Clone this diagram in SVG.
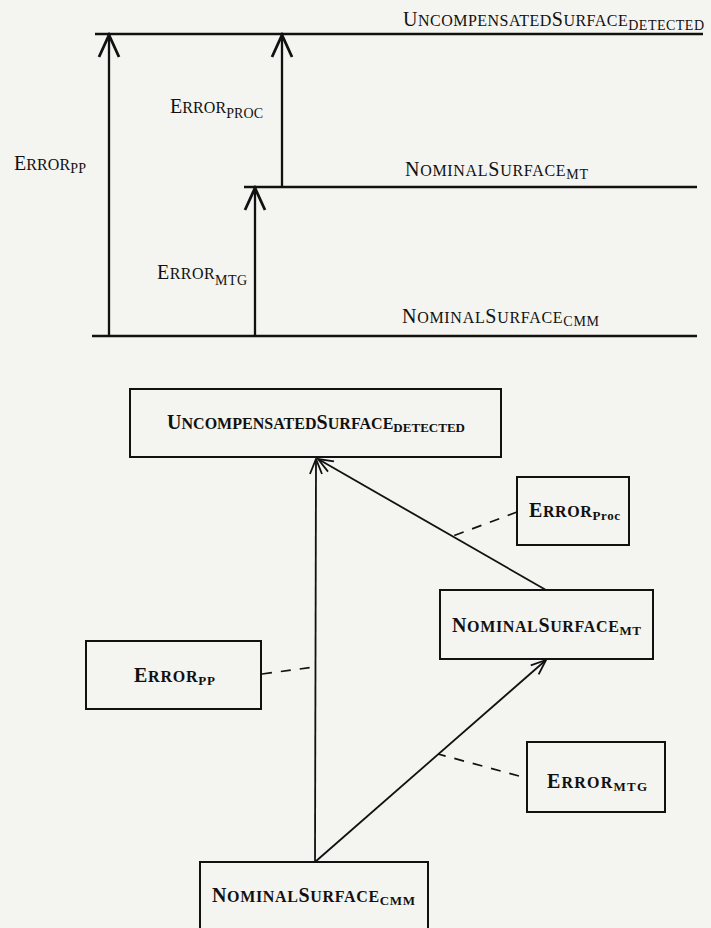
<svg xmlns="http://www.w3.org/2000/svg" width="711" height="928" viewBox="0 0 711 928">
<style>
.bg{fill:#f4f4f0}
.surf{stroke:#111;stroke-width:2.6;fill:none}
.shaft{stroke:#111;stroke-width:2.3;fill:none}
.box{fill:none;stroke:#111;stroke-width:2}
.conn{stroke:#111;stroke-width:1.8;fill:none}
.dash{stroke:#111;stroke-width:1.7;fill:none;stroke-dasharray:10 9}
.lt{font-family:"Liberation Serif","Times New Roman",serif;fill:#111}
.bt{font-family:"Liberation Serif","Times New Roman",serif;font-weight:bold;fill:#111}
.L{font-size:20px}.S{font-size:16px}.U{font-size:14px}
.bL{font-size:20px}.bS{font-size:16px}.bU{font-size:13px}
</style>
<defs>
<marker id="bigArrow" markerUnits="userSpaceOnUse" viewBox="-25 -13 28 26" markerWidth="28" markerHeight="26" refX="0" refY="0" orient="auto">
<path d="M-22,-10 L0,0 L-22,10" fill="none" stroke="#111" stroke-width="2.8"/>
</marker>
<marker id="arrow" markerUnits="userSpaceOnUse" viewBox="-17 -8 19 16" markerWidth="19" markerHeight="16" refX="0" refY="0" orient="auto">
<path d="M-15,-6 L0,0 L-15,6" fill="none" stroke="#111" stroke-width="1.8"/>
</marker>
</defs>
<rect class="bg" x="0" y="0" width="711" height="928"/>

<!-- Top section: surfaces -->
<g id="surf-detected">
<line class="surf" x1="95" y1="34" x2="703" y2="34"/>
<text class="lt" x="403" y="26" textLength="301" lengthAdjust="spacing"><tspan class="L">U</tspan><tspan class="S">NCOMPENSATED</tspan><tspan class="L">S</tspan><tspan class="S">URFACE</tspan><tspan class="U" dy="4">DETECTED</tspan></text>
</g>
<g id="surf-mt">
<line class="surf" x1="244" y1="187" x2="697" y2="187"/>
<text class="lt" x="405" y="176" textLength="183" lengthAdjust="spacing"><tspan class="L">N</tspan><tspan class="S">OMINAL</tspan><tspan class="L">S</tspan><tspan class="S">URFACE</tspan><tspan class="U" dy="3">MT</tspan></text>
</g>
<g id="surf-cmm">
<line class="surf" x1="92" y1="336" x2="697" y2="336"/>
<text class="lt" x="402" y="323" textLength="197" lengthAdjust="spacing"><tspan class="L">N</tspan><tspan class="S">OMINAL</tspan><tspan class="L">S</tspan><tspan class="S">URFACE</tspan><tspan class="U" dy="3">CMM</tspan></text>
</g>
<g id="top-connectors">
<line class="shaft" x1="109" y1="336" x2="109" y2="35" marker-end="url(#bigArrow)"/>
<line class="shaft" x1="282" y1="187" x2="282" y2="35" marker-end="url(#bigArrow)"/>
<line class="shaft" x1="255" y1="336" x2="255" y2="188" marker-end="url(#bigArrow)"/>
</g>
<g id="lbl-error-pp">
<text class="lt" x="14" y="170" textLength="72" lengthAdjust="spacing"><tspan class="L">E</tspan><tspan class="S">RROR</tspan><tspan class="U" dy="3">PP</tspan></text>
</g>
<g id="lbl-error-proc">
<text class="lt" x="170" y="113" textLength="93" lengthAdjust="spacing"><tspan class="L">E</tspan><tspan class="S">RROR</tspan><tspan class="U" dy="5">PROC</tspan></text>
</g>
<g id="lbl-error-mtg">
<text class="lt" x="157" y="279" textLength="90" lengthAdjust="spacing"><tspan class="L">E</tspan><tspan class="S">RROR</tspan><tspan class="U" dy="6">MTG</tspan></text>
</g>

<!-- Bottom section: graph -->
<g id="node-detected">
<rect class="box" x="130" y="389" width="371" height="68"/>
<text class="bt" x="167" y="429" textLength="298" lengthAdjust="spacing"><tspan class="bL">U</tspan><tspan class="bS">NCOMPENSATED</tspan><tspan class="bL">S</tspan><tspan class="bS">URFACE</tspan><tspan class="bU" dy="3">DETECTED</tspan></text>
</g>
<g id="node-error-proc">
<rect class="box" x="517" y="477" width="112" height="68"/>
<text class="bt" x="529" y="517" textLength="91" lengthAdjust="spacing"><tspan class="bL">E</tspan><tspan class="bS">RROR</tspan><tspan class="bU" dy="3">Proc</tspan></text>
</g>
<g id="node-mt">
<rect class="box" x="440" y="590" width="213" height="69"/>
<text class="bt" x="452" y="632" textLength="189" lengthAdjust="spacing"><tspan class="bL">N</tspan><tspan class="bS">OMINAL</tspan><tspan class="bL">S</tspan><tspan class="bS">URFACE</tspan><tspan class="bU" dy="3">MT</tspan></text>
</g>
<g id="node-error-pp">
<rect class="box" x="86" y="641" width="175" height="68"/>
<text class="bt" x="134" y="682" textLength="81" lengthAdjust="spacing"><tspan class="bL">E</tspan><tspan class="bS">RROR</tspan><tspan class="bU" dy="3">PP</tspan></text>
</g>
<g id="node-error-mtg">
<rect class="box" x="527" y="742" width="138" height="70"/>
<text class="bt" x="547" y="788" textLength="100" lengthAdjust="spacing"><tspan class="bL">E</tspan><tspan class="bS">RROR</tspan><tspan class="bU" dy="3">MTG</tspan></text>
</g>
<g id="node-cmm">
<rect class="box" x="200" y="862" width="228" height="80"/>
<text class="bt" x="212" y="902" textLength="203" lengthAdjust="spacing"><tspan class="bL">N</tspan><tspan class="bS">OMINAL</tspan><tspan class="bL">S</tspan><tspan class="bS">URFACE</tspan><tspan class="bU" dy="3">CMM</tspan></text>
</g>
<g id="connectors">
<line class="conn" x1="315" y1="862" x2="316" y2="459" marker-end="url(#arrow)"/>
<line class="conn" x1="315" y1="862" x2="546" y2="660" marker-end="url(#arrow)"/>
<line class="conn" x1="546" y1="590" x2="318" y2="459" marker-end="url(#arrow)"/>
<line class="dash" x1="517" y1="512" x2="453" y2="536"/>
<line class="dash" x1="262" y1="674" x2="315" y2="667"/>
<line class="dash" x1="519" y1="776" x2="438" y2="754"/>
</g>
</svg>
